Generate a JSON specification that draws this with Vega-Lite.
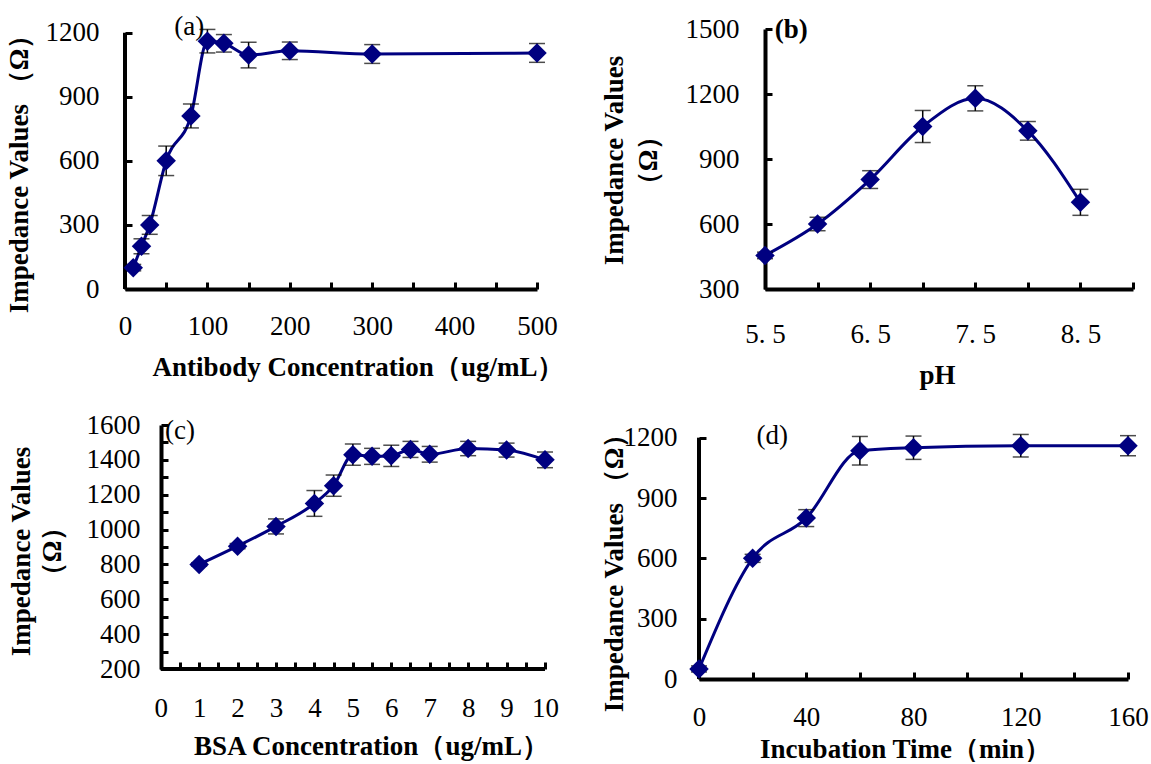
{
  "$schema": "https://vega.github.io/schema/vega-lite/v6.json",
  "background": "white",
  "padding": {"left": 4, "top": 12, "right": 0, "bottom": 0},
  "config": {
    "view": {"stroke": null},
    "font": "Liberation Serif",
    "axis": {
      "grid": false,
      "domainColor": "black",
      "domainWidth": 4,
      "tickColor": "black",
      "tickWidth": 3,
      "tickSize": -7,
      "labelFont": "Liberation Serif",
      "labelFontSize": 27,
      "labelColor": "black",
      "labelOverlap": false,
      "labelFlush": false,
      "titleFont": "Liberation Serif",
      "titleFontSize": 27,
      "titleFontWeight": "bold",
      "titleColor": "black",
      "titleBaseline": "alphabetic",
      "titleAlign": "center"
    }
  },
  "datasets": {
    "a": [
      {"x": 10, "y": 100, "e": 15}, {"x": 20, "y": 200, "e": 35}, {"x": 30, "y": 300, "e": 44},
      {"x": 50, "y": 600, "e": 69}, {"x": 80, "y": 810, "e": 56}, {"x": 100, "y": 1160, "e": 55},
      {"x": 120, "y": 1150, "e": 41}, {"x": 150, "y": 1095, "e": 60}, {"x": 200, "y": 1115, "e": 41},
      {"x": 300, "y": 1100, "e": 44}, {"x": 500, "y": 1105, "e": 44}
    ],
    "b": [
      {"x": 5.5, "y": 455, "e": 15}, {"x": 6.0, "y": 600, "e": 31}, {"x": 6.5, "y": 805, "e": 41},
      {"x": 7.0, "y": 1050, "e": 74}, {"x": 7.5, "y": 1180, "e": 58}, {"x": 8.0, "y": 1030, "e": 43},
      {"x": 8.5, "y": 700, "e": 60}
    ],
    "c": [
      {"x": 1, "y": 800, "e": 10}, {"x": 2, "y": 905, "e": 15}, {"x": 3, "y": 1018, "e": 43},
      {"x": 4, "y": 1150, "e": 74}, {"x": 4.5, "y": 1252, "e": 61}, {"x": 5, "y": 1430, "e": 61},
      {"x": 5.5, "y": 1420, "e": 46}, {"x": 6, "y": 1423, "e": 61}, {"x": 6.5, "y": 1460, "e": 46},
      {"x": 7, "y": 1432, "e": 45}, {"x": 8, "y": 1465, "e": 41}, {"x": 9, "y": 1456, "e": 40},
      {"x": 10, "y": 1400, "e": 45}
    ],
    "d": [
      {"x": 0, "y": 50, "e": 15}, {"x": 20, "y": 600, "e": 20}, {"x": 40, "y": 800, "e": 42},
      {"x": 60, "y": 1135, "e": 71}, {"x": 80, "y": 1150, "e": 58}, {"x": 120, "y": 1160, "e": 56},
      {"x": 160, "y": 1160, "e": 50}
    ]
  },
  "spacing": 23,
  "vconcat": [
    {
      "spacing": 36,
      "hconcat": [
        {
          "width": 412,
          "height": 260,
          "layer": [
            {
              "data": {"values": [{"label": "axis"}]},
              "mark": {"type": "rule", "color": "black", "strokeWidth": 4},
              "encoding": {
                "x": {"datum": 0, "type": "quantitative", "axis": {"labelOverlap": false}},
                "y": {"datum": 0, "type": "quantitative", "axis": {"labelOverlap": false}},
                "y2": {"datum": 1200}
              }
            },
            {
              "data": {"name": "a"},
              "encoding": {
                "x": {"field": "x", "type": "quantitative",
                  "scale": {"domain": [0, 500], "nice": false, "zero": false},
                  "axis": {"title": "Antibody Concentration（ug/mL）",
                    "values": [0, 50, 100, 150, 200, 250, 300, 350, 400, 450, 500],
                    "format": "d", "labelExpr": "datum.value % 100 == 0 ? datum.label : ''",
                    "labelOverlap": false, "labelPadding": 52, "labelBaseline": "alphabetic",
                    "titleX": 233, "titleY": 86}},
                "y": {"field": "y", "type": "quantitative",
                  "scale": {"domain": [0, 1217], "nice": false, "zero": false},
                  "axis": {"title": "Impedance Values （Ω）", "domain": false,
                    "values": [0, 150, 300, 450, 600, 750, 900, 1050, 1200],
                    "format": "d", "labelExpr": "datum.value % 300 == 0 ? datum.label : ''",
                    "labelOverlap": false, "labelPadding": 33, "titleAngle": -90, "titleX": -98, "titleY": 138}}
              },
              "layer": [
                {"mark": {"type": "line", "color": "#000080", "strokeWidth": 3, "interpolate": "monotone"}},
                {
                  "mark": {"type": "errorbar", "color": "black", "ticks": {"size": 16, "thickness": 1.5}, "rule": {"strokeWidth": 1.5}},
                  "encoding": {"yError": {"field": "e"}}
                },
                {"mark": {"type": "point", "shape": "diamond", "filled": true, "opacity": 1, "color": "#000080", "size": 380}}
              ]
            },
            {
              "data": {"values": [{"label": "(a)"}]},
              "mark": {"type": "text", "font": "Liberation Serif", "fontSize": 27, "align": "center", "baseline": "middle", "color": "black"},
              "encoding": {
                "x": {"datum": 78, "type": "quantitative", "axis": {"labelOverlap": false}},
                "y": {"datum": 1228, "type": "quantitative", "axis": {"labelOverlap": false}},
                "text": {"field": "label"}
              }
            }
          ]
        },
        {
          "width": 368,
          "height": 260,
          "layer": [
            {
              "data": {"name": "b"},
              "encoding": {
                "x": {"field": "x", "type": "quantitative",
                  "scale": {"domain": [5.5, 9], "nice": false, "zero": false},
                  "axis": {"title": "pH",
                    "values": [5.5, 6, 6.5, 7, 7.5, 8, 8.5, 9],
                    "labelExpr": "(datum.value * 2) % 2 == 1 && datum.value < 9 ? replace(format(datum.value, '.1f'), '.', '. ') : ''",
                    "labelOverlap": false, "labelPadding": 60, "labelBaseline": "alphabetic",
                    "titleX": 172, "titleY": 94}},
                "y": {"field": "y", "type": "quantitative",
                  "scale": {"domain": [300, 1500], "nice": false, "zero": false},
                  "axis": {"title": ["Impedance Values", "（Ω）"],
                    "values": [300, 450, 600, 750, 900, 1050, 1200, 1350, 1500],
                    "format": "d", "labelExpr": "datum.value % 300 == 0 ? datum.label : ''",
                    "labelOverlap": false, "labelPadding": 33, "titleAngle": -90, "titleX": -143, "titleY": 131, "titleLineHeight": 34}}
              },
              "layer": [
                {"mark": {"type": "line", "color": "#000080", "strokeWidth": 3, "interpolate": "monotone"}},
                {
                  "mark": {"type": "errorbar", "color": "black", "ticks": {"size": 16, "thickness": 1.5}, "rule": {"strokeWidth": 1.5}},
                  "encoding": {"yError": {"field": "e"}}
                },
                {"mark": {"type": "point", "shape": "diamond", "filled": true, "opacity": 1, "color": "#000080", "size": 380}}
              ]
            },
            {
              "data": {"values": [{"label": "(b)"}]},
              "mark": {"type": "text", "font": "Liberation Serif", "fontSize": 27, "fontWeight": "bold", "align": "center", "baseline": "middle", "color": "black"},
              "encoding": {
                "x": {"datum": 5.75, "type": "quantitative", "axis": {"labelOverlap": false}},
                "y": {"datum": 1497, "type": "quantitative", "axis": {"labelOverlap": false}},
                "text": {"field": "label"}
              }
            }
          ]
        }
      ]
    },
    {
      "spacing": 40,
      "hconcat": [
        {
          "width": 420,
          "height": 244,
          "resolve": {"axis": {"x": "independent", "y": "independent"}},
          "layer": [
            {
              "data": {"name": "c"},
              "encoding": {
                "x": {"field": "x", "type": "quantitative",
                  "scale": {"domain": [-0.929, 10], "nice": false, "zero": false},
                  "axis": {"title": "BSA Concentration（ug/mL）", "domain": false, "orient": "bottom",
                    "values": [0, 0.5, 1, 1.5, 2, 2.5, 3, 3.5, 4, 4.5, 5, 5.5, 6, 6.5, 7, 7.5, 8, 8.5, 9, 9.5, 10],
                    "labelExpr": "datum.value % 1 == 0 ? format(datum.value, 'd') : ''",
                    "labelOverlap": false, "labelPadding": 54, "labelBaseline": "alphabetic",
                    "titleX": 246, "titleY": 85}},
                "y": {"field": "y", "type": "quantitative",
                  "scale": {"domain": [200, 1600], "nice": false, "zero": false},
                  "axis": {"title": ["Impedance Values", "（Ω）"], "offset": -36, "orient": "left",
                    "values": [200, 300, 400, 500, 600, 700, 800, 900, 1000, 1100, 1200, 1300, 1400, 1500, 1600],
                    "format": "d", "labelExpr": "datum.value % 200 == 0 ? datum.label : ''",
                    "labelOverlap": false, "labelPadding": 28, "titleAngle": -90, "titleX": -132, "titleY": 126, "titleLineHeight": 31}}
              },
              "layer": [
                {"mark": {"type": "line", "color": "#000080", "strokeWidth": 3, "interpolate": "monotone"}},
                {
                  "mark": {"type": "errorbar", "color": "black", "ticks": {"size": 16, "thickness": 1.5}, "rule": {"strokeWidth": 1.5}},
                  "encoding": {"yError": {"field": "e"}}
                },
                {"mark": {"type": "point", "shape": "diamond", "filled": true, "opacity": 1, "color": "#000080", "size": 380}}
              ]
            },
            {
              "data": {"values": [{"label": "axis"}]},
              "mark": {"type": "rule", "color": "black", "strokeWidth": 4},
              "encoding": {
                "x": {"datum": 0, "type": "quantitative", "axis": null},
                "x2": {"datum": 10},
                "y": {"datum": 200, "type": "quantitative", "axis": null}
              }
            },
            {
              "data": {"values": [{"label": "(c)"}]},
              "mark": {"type": "text", "font": "Liberation Serif", "fontSize": 27, "align": "center", "baseline": "middle", "color": "black"},
              "encoding": {
                "x": {"datum": 0.5, "type": "quantitative", "axis": null},
                "y": {"datum": 1566, "type": "quantitative", "axis": null},
                "text": {"field": "label"}
              }
            }
          ]
        },
        {
          "width": 429,
          "height": 254,
          "layer": [
            {
              "data": {"values": [{"label": "axis"}]},
              "mark": {"type": "rule", "color": "black", "strokeWidth": 4},
              "encoding": {
                "x": {"datum": 0, "type": "quantitative", "axis": {"labelOverlap": false}},
                "y": {"datum": 0, "type": "quantitative", "axis": {"labelOverlap": false}},
                "y2": {"datum": 1200}
              }
            },
            {
              "data": {"name": "d"},
              "encoding": {
                "x": {"field": "x", "type": "quantitative",
                  "scale": {"domain": [0, 160], "nice": false, "zero": false},
                  "axis": {"title": "Incubation Time（min）",
                    "values": [0, 10, 20, 30, 40, 50, 60, 70, 80, 90, 100, 110, 120, 130, 140, 150, 160],
                    "format": "d", "labelExpr": "datum.value % 40 == 0 ? datum.label : ''",
                    "labelOverlap": false, "labelPadding": 53, "labelBaseline": "alphabetic",
                    "titleX": 206, "titleY": 78}},
                "y": {"field": "y", "type": "quantitative",
                  "scale": {"domain": [0, 1263], "nice": false, "zero": false},
                  "axis": {"title": "Impedance Values （Ω）", "domain": false,
                    "values": [0, 150, 300, 450, 600, 750, 900, 1050, 1200],
                    "format": "d", "labelExpr": "datum.value % 300 == 0 ? datum.label : ''",
                    "labelOverlap": false, "labelPadding": 29, "titleAngle": -90, "titleX": -77, "titleY": 141}}
              },
              "layer": [
                {"mark": {"type": "line", "color": "#000080", "strokeWidth": 3, "interpolate": "monotone"}},
                {
                  "mark": {"type": "errorbar", "color": "black", "ticks": {"size": 16, "thickness": 1.5}, "rule": {"strokeWidth": 1.5}},
                  "encoding": {"yError": {"field": "e"}}
                },
                {"mark": {"type": "point", "shape": "diamond", "filled": true, "opacity": 1, "color": "#000080", "size": 380}}
              ]
            },
            {
              "data": {"values": [{"label": "(d)"}]},
              "mark": {"type": "text", "font": "Liberation Serif", "fontSize": 27, "align": "center", "baseline": "middle", "color": "black"},
              "encoding": {
                "x": {"datum": 27.3, "type": "quantitative", "axis": {"labelOverlap": false}},
                "y": {"datum": 1208, "type": "quantitative", "axis": {"labelOverlap": false}},
                "text": {"field": "label"}
              }
            }
          ]
        }
      ]
    }
  ]
}
